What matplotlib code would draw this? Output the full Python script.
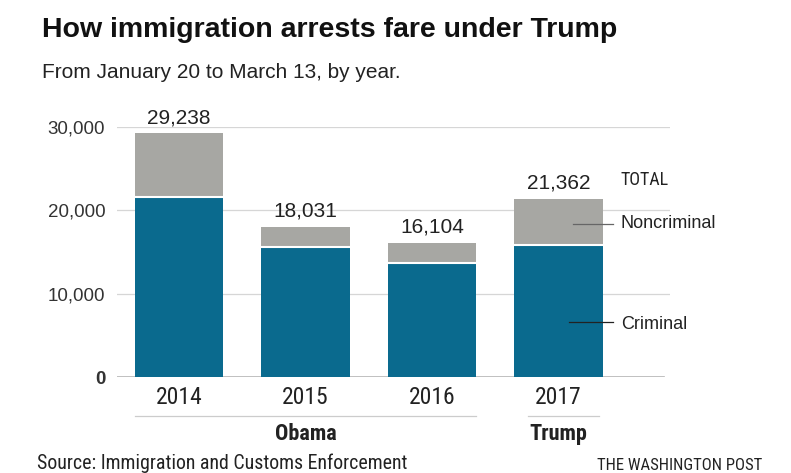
import matplotlib
matplotlib.use('Agg')
import matplotlib.pyplot as plt

years = ['2014', '2015', '2016', '2017']
totals = [29238, 18031, 16104, 21362]
criminal = [21620, 15630, 13720, 15900]
noncriminal = [t - c for t, c in zip(totals, criminal)]
yticks = [0, 10000, 20000, 30000]
ytick_labels = ['0', '10,000', '20,000', '30,000']

blue = '#0a6a8e'
gray = '#a7a7a3'
narrow = ['Liberation Sans Narrow', 'Roboto Condensed', 'DejaVu Sans']
plt.rcParams['font.family'] = ['Liberation Sans', 'DejaVu Sans']

fig = plt.figure(figsize=(7.91, 4.73), dpi=100)
ax = fig.add_axes([117 / 791, 96 / 473, 553 / 791, 250 / 473])

x = list(range(len(years)))
ax.bar(x, criminal, width=0.70, color=blue, zorder=2)
ax.bar(x, noncriminal, bottom=criminal, width=0.70, color=gray, zorder=2)
# thin white line between the two segments
ax.hlines(criminal, [i - 0.35 for i in x], [i + 0.35 for i in x], color='white', lw=1.5, zorder=3)

ax.set_xlim(-0.49, 3.88)
ax.set_ylim(0, 30000)
for v in yticks[1:]:
	ax.axhline(v, color='#d6d6d6', lw=0.9, zorder=1)
ax.axhline(0, xmax=0.99, color='#b5b5b5', lw=1.2, zorder=1)

for s in ax.spines.values():
	s.set_visible(False)
ax.set_xticks([])
ax.set_yticks(yticks)
ax.set_yticklabels(ytick_labels, fontsize=13.5, color='#333333')
ax.get_yticklabels()[0].set_fontweight('bold')
ax.tick_params(axis='y', length=0, pad=8.5)

for i, t in enumerate(totals):
	ax.text(i, t + 1900, f'{t:,}', ha='center', va='center', fontsize=15, color='#222222', clip_on=False)

ax.text(3.49, 23600, 'TOTAL', ha='left', va='center', fontsize=13, family=narrow, color='#222222')
ax.plot([3.11, 3.43], [18350, 18350], color='#666666', lw=0.9, zorder=3)
ax.text(3.49, 18450, 'Noncriminal', ha='left', va='center', fontsize=13, color='#222222')
ax.plot([3.08, 3.43], [6650, 6650], color='#222222', lw=0.9, zorder=3)
ax.text(3.49, 6300, 'Criminal', ha='left', va='center', fontsize=13, color='#222222')

# year labels and administration brackets
for i, y in enumerate(years):
	ax.text(i, -2500, y, ha='center', va='center', fontsize=17, family=narrow, color='#222222', clip_on=False)
ax.plot([-0.35, 2.35], [-4700, -4700], color='#cccccc', lw=0.9, clip_on=False)
ax.plot([2.76, 3.32], [-4700, -4700], color='#cccccc', lw=0.9, clip_on=False)
ax.text(1, -6850, 'Obama', ha='center', va='center', fontsize=16, fontweight='bold', family=narrow, color='#222222', clip_on=False)
ax.text(3, -6850, 'Trump', ha='center', va='center', fontsize=16, fontweight='bold', family=narrow, color='#222222', clip_on=False)

fig.text(42 / 791, 1 - 30 / 473, 'How immigration arrests fare under Trump', ha='left', va='center',
	fontsize=20.5, fontweight='bold', color='#111111')
fig.text(42 / 791, 1 - 72 / 473, 'From January 20 to March 13, by year.', ha='left', va='center',
	fontsize=15, color='#222222')
fig.text(37 / 791, 1 - 463 / 473, 'Source: Immigration and Customs Enforcement', ha='left', va='center',
	fontsize=14.3, family=narrow, color='#222222')
fig.text(762 / 791, 1 - 465 / 473, 'THE WASHINGTON POST', ha='right', va='center',
	fontsize=12, family=narrow, color='#222222')

fig.savefig('out.png', dpi=100)
